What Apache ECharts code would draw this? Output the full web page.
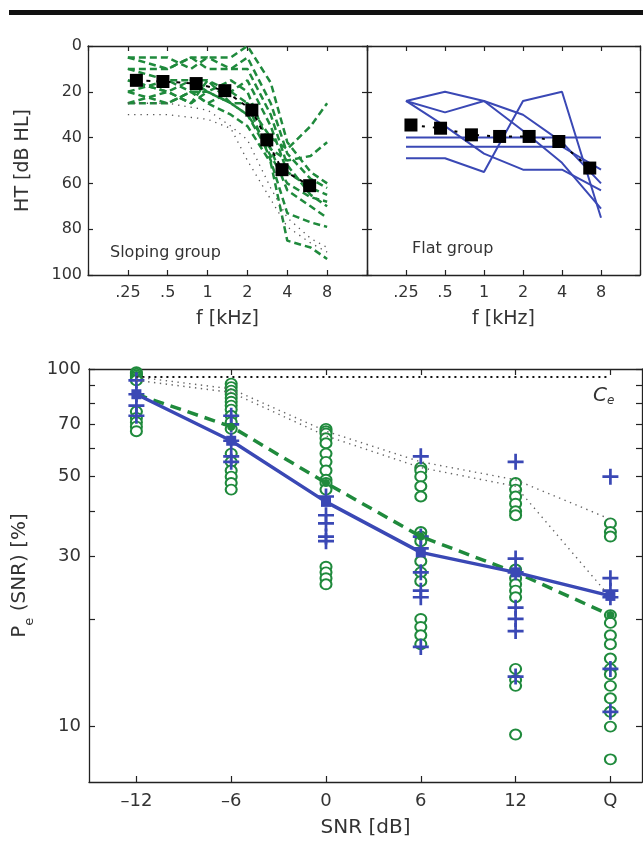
<!DOCTYPE html>
<html><head><meta charset="utf-8">
<script src="https://cdn.jsdelivr.net/npm/echarts@6/dist/echarts.min.js"></script>
<style>html,body{margin:0;padding:0;background:#fff}#c{width:643px;height:861px}</style>
</head><body><div id="c"></div><script>
const FONT = 'DejaVu Sans';
const GREEN = '#1f8a3c';
const BLUE = '#3a48b5';

// ---------- top panels (audiograms) ----------
const freqTicks = [0.25, 0.5, 1, 2, 4, 8];
const freqLabels = ['.25', '.5', '1', '2', '4', '8'];
const htTicks = [0, 20, 40, 60, 80, 100];

// sloping group (green dashed individual audiograms)
const slopeFreqs = [0.25, 0.5, 0.75, 1, 1.5, 2, 3, 4, 6, 8];
const slopeG1 = [5, 5, 10, 5, 5, 0, 16, 42, 55, 60];
const slopeG2 = [10, 10, 5, 10, 10, 5, 25, 47, 58, 62];
const slopeG3 = [20, 25, 20, 25, 20, 15, 35, 55, 62, 65];
const slopeG4 = [15, 20, 25, 15, 25, 25, 40, 45, 35, 25];
const slopeG5 = [25, 25, 20, 20, 25, 30, 45, 50, 48, 42];
const slopeG6 = [10, 15, 15, 20, 15, 20, 45, 63, 70, 75];
const slopeG7 = [5, 10, 5, 5, 10, 10, 30, 52, 65, 70];
const slopeG8 = [20, 15, 20, 25, 30, 35, 51, 85, 88, 93];
const slopeG9 = [15, 20, 15, 15, 20, 25, 50, 73, 77, 79];
const slopeG10 = [25, 20, 25, 20, 25, 30, 48, 60, 66, 68];
// dotted gray audiograms in sloping panel
const dotFreqs = [0.25, 0.5, 1, 1.5, 2, 3, 4, 6, 8];
const slopeD1 = [30, 30, 32, 36, 50, 67, 79, 86, 90];
const slopeD2 = [25, 25, 28, 35, 41, 62, 75, 84, 88];
// sloping group mean (black squares)
const slopeMeanF = [0.29, 0.46, 0.82, 1.35, 2.16, 2.8, 3.65, 5.9];
const slopeMeanHT = [15, 15.5, 16.4, 19.5, 28, 41, 54, 61];

// flat group (blue solid individual audiograms)
const flatFreqs = [0.25, 0.5, 1, 2, 4, 8];
const flatB1 = [24, 20, 24, 37, 51, 71];
const flatB2 = [24, 29, 24, 30, 42, 60];
const flatB3 = [40, 40, 40, 40, 40, 40];
const flatB4 = [44, 44, 44, 44, 44, 54];
const flatB5 = [49, 49, 55, 24, 20, 75];
const flatB6 = [24, 35, 47, 54, 54, 63];
// flat group mean
const flatMeanF = [0.273, 0.462, 0.8, 1.32, 2.23, 3.78, 6.55];
const flatMeanHT = [34.5, 35.9, 38.8, 39.5, 39.5, 41.7, 53.3];

// ---------- bottom panel ----------
const snrTicks = [-12, -6, 0, 6, 12, 18];
const snrLabels = ['\u201312', '\u20136', '0', '6', '12', 'Q'];
const peTickValues = [10, 20, 30, 40, 50, 60, 70, 80, 90, 100];
const peLabelValues = [10, 30, 50, 70, 100];

const ceilingCe = [95, 95, 95, 95, 95, 95];
const upperDotted = [95, 88, 67, 55, 49, 38];
const lowerDotted = [93, 86, 65, 53, 47, 23];
const slopeMeanPe = [85, 69, 48, 34, 27, 20.5];
const flatMeanPe = [85, 63, 42.5, 30.7, 27, 23.2];

const slopeIndPe = [
  [98, 97, 96, 95, 94, 93, 76, 73, 71, 69, 67],
  [91, 89, 87, 85, 83, 81, 79, 77, 74, 71, 68, 58, 55, 52, 50, 48, 46],
  [68, 67, 66, 64, 62, 58, 55, 52, 49, 48, 46, 28, 27, 26, 25],
  [53, 52, 50, 47, 44, 35, 34, 33, 29, 27, 25.5, 20, 19, 18, 17],
  [48, 46, 44, 42, 40, 39, 27.5, 26, 25, 24, 23, 14.5, 13.5, 13, 9.5],
  [37, 35, 34, 20.5, 19.5, 18, 17, 15.5, 14.5, 14, 13, 12, 11, 10, 8.1]
];
const flatIndPe = [
  [93, 85, 79, 74],
  [74, 70, 63, 57, 55],
  [44, 39, 37, 34, 33],
  [57, 34, 31.5, 27, 24, 23, 16.7],
  [55, 29.5, 27, 21.5, 20, 18.5, 13.8],
  [50, 26, 24, 23, 14.5, 11]
];

// ---------- helpers ----------
const pairs = (xs, ys) => xs.map((x, i) => [x, ys[i]]);
const groupPairs = (xs, groups) => {
  const out = [];
  groups.forEach((g, i) => g.forEach(v => out.push([xs[i], v])));
  return out;
};
const AX = '#222';
const lineC = {show: true, onZero: false, lineStyle: {color: AX, width: 1.3}};
const tickIn = {show: true, inside: true, length: 5, lineStyle: {color: AX, width: 1.2}};
const freqFmt = v => {
  const i = freqTicks.findIndex(t => Math.abs(t - v) < 1e-6);
  return i >= 0 ? freqLabels[i] : '';
};
const labelStyle = (size) => ({fontFamily: FONT, fontSize: size, color: '#333'});

function freqAxis(grid, pos, withLabel) {
  return {
    type: 'log', logBase: 2, min: 0.125, max: 16, splitNumber: 7,
    gridIndex: grid, position: pos,
    axisLine: lineC, axisTick: tickIn, splitLine: {show: false},
    axisLabel: withLabel ? Object.assign({show: true, margin: 10, formatter: freqFmt}, labelStyle(16)) : {show: false},
    name: withLabel ? 'f [kHz]' : '', nameLocation: 'middle', nameGap: 35,
    nameTextStyle: labelStyle(19)
  };
}
function htAxis(grid, pos, withLabel) {
  return {
    type: 'value', inverse: true, min: 0, max: 100, interval: 20,
    gridIndex: grid, position: pos,
    axisLine: lineC, axisTick: tickIn, splitLine: {show: false},
    axisLabel: withLabel ? Object.assign({show: true, margin: 6}, labelStyle(16)) : {show: false},
    name: withLabel ? 'HT [dB HL]' : '', nameLocation: 'middle', nameGap: 55, nameRotate: 90,
    nameTextStyle: labelStyle(19)
  };
}
function snrAxis(pos, withLabel) {
  return {
    type: 'value', min: -15, max: 20, gridIndex: 2, position: pos,
    axisLine: lineC,
    axisTick: Object.assign({customValues: snrTicks}, tickIn, {length: 6}),
    splitLine: {show: false},
    axisLabel: withLabel ? Object.assign({show: true, margin: 10, customValues: snrTicks,
      formatter: v => { const i = snrTicks.indexOf(v); return i >= 0 ? snrLabels[i] : ''; }}, labelStyle(18)) : {show: false},
    name: withLabel ? 'SNR [dB]' : '', nameLocation: 'middle', nameGap: 36,
    nameTextStyle: labelStyle(20)
  };
}
function peAxis(pos, withLabel) {
  return {
    type: 'log', logBase: 10, min: 7, max: 100, gridIndex: 2, position: pos,
    axisLine: lineC,
    axisTick: Object.assign({customValues: peTickValues}, tickIn, {length: 6}),
    splitLine: {show: false},
    axisLabel: withLabel ? Object.assign({show: true, margin: 8, customValues: peLabelValues}, labelStyle(18)) : {show: false},
    name: withLabel ? 'P{s|e} (SNR) [%]' : '', nameLocation: 'middle', nameGap: 53, nameRotate: 90,
    nameTextStyle: Object.assign({rich: {s: {fontFamily: FONT, fontSize: 13, color: '#333', verticalAlign: 'bottom', padding: [0, 0, -6, 0]}}}, labelStyle(20))
  };
}

const series = [];
// sloping-group individual lines
[slopeG1, slopeG2, slopeG3, slopeG4, slopeG5, slopeG6, slopeG7, slopeG8, slopeG9, slopeG10].forEach(g => {
  series.push({type: 'line', xAxisIndex: 0, yAxisIndex: 0, data: pairs(slopeFreqs, g), symbol: 'none',
    lineStyle: {color: GREEN, width: 2.5, type: [7, 4]}, z: 2});
});
[slopeD1, slopeD2].forEach(g => {
  series.push({type: 'line', xAxisIndex: 0, yAxisIndex: 0, data: pairs(dotFreqs, g), symbol: 'none',
    lineStyle: {color: '#555', width: 1.3, type: [1.3, 5]}, z: 2});
});
series.push({type: 'line', xAxisIndex: 0, yAxisIndex: 0, data: pairs(slopeMeanF, slopeMeanHT),
  symbol: 'rect', symbolSize: 13, itemStyle: {color: '#000'},
  lineStyle: {color: '#000', width: 2, type: [4, 6]}, z: 5});

// flat-group individual lines
[flatB1, flatB2, flatB3, flatB4, flatB5, flatB6].forEach(g => {
  series.push({type: 'line', xAxisIndex: 2, yAxisIndex: 2, data: pairs(flatFreqs, g), symbol: 'none',
    lineStyle: {color: BLUE, width: 2}, z: 2});
});
series.push({type: 'line', xAxisIndex: 2, yAxisIndex: 2, data: pairs(flatMeanF, flatMeanHT),
  symbol: 'rect', symbolSize: 13, itemStyle: {color: '#000'},
  lineStyle: {color: '#000', width: 2, type: [3, 8]}, z: 5});

// bottom panel
series.push({type: 'scatter', xAxisIndex: 4, yAxisIndex: 4, data: groupPairs(snrTicks, slopeIndPe),
  symbol: 'emptyCircle', symbolSize: [11, 10], itemStyle: {color: GREEN, borderColor: GREEN, borderWidth: 1.2, opacity: 1}, z: 2});
series.push({type: 'scatter', xAxisIndex: 4, yAxisIndex: 4, data: groupPairs(snrTicks, flatIndPe),
  symbol: 'path://M4.15,0h1.7v10h-1.7zM0,4.15h10v1.7h-10z', symbolSize: 16, itemStyle: {color: BLUE, opacity: 1}, z: 3});
series.push({type: 'line', xAxisIndex: 4, yAxisIndex: 4, data: pairs(snrTicks, ceilingCe), symbol: 'none',
  lineStyle: {color: '#111', width: 2, type: [2, 4]}, z: 4});
[upperDotted, lowerDotted].forEach(g => {
  series.push({type: 'line', xAxisIndex: 4, yAxisIndex: 4, data: pairs(snrTicks, g), symbol: 'none',
    lineStyle: {color: '#666', width: 1.4, type: [1.4, 4.5]}, z: 4});
});
series.push({type: 'line', xAxisIndex: 4, yAxisIndex: 4, data: pairs(snrTicks, slopeMeanPe),
  symbol: 'circle', symbolSize: 8, itemStyle: {color: GREEN},
  lineStyle: {color: GREEN, width: 3.5, type: [11, 7]}, z: 5});
series.push({type: 'line', xAxisIndex: 4, yAxisIndex: 4, data: pairs(snrTicks, flatMeanPe),
  symbol: 'rect', symbolSize: 10, itemStyle: {color: BLUE},
  lineStyle: {color: BLUE, width: 3.5}, z: 6});

const option = {
  animation: false,
  backgroundColor: '#fff',
  grid: [
    {left: 88, top: 46, width: 279, height: 229},
    {left: 367, top: 46, width: 277, height: 229},
    {left: 89, top: 369, width: 553, height: 413}
  ],
  xAxis: [
    freqAxis(0, 'bottom', true), freqAxis(0, 'top', false),
    freqAxis(1, 'bottom', true), freqAxis(1, 'top', false),
    snrAxis('bottom', true), snrAxis('top', false)
  ],
  yAxis: [
    htAxis(0, 'left', true), htAxis(0, 'right', false),
    htAxis(1, 'left', false), htAxis(1, 'right', false),
    peAxis('left', true), peAxis('right', false)
  ],
  series: series,
  graphic: [
    {type: 'rect', shape: {x: 9, y: 10, width: 640, height: 5}, style: {fill: '#111'}},
    {type: 'text', left: 110, top: 245, style: {text: 'Sloping group', font: '16px "DejaVu Sans"', fill: '#333'}},
    {type: 'text', left: 412, top: 241, style: {text: 'Flat group', font: '16px "DejaVu Sans"', fill: '#333'}},
    {type: 'text', left: 593, top: 386, style: {text: '{c|C}{e|e}', rich: {
      c: {fontFamily: FONT, fontSize: 20, fontStyle: 'italic', fill: '#333', color: '#333'},
      e: {fontFamily: FONT, fontSize: 12, fontStyle: 'italic', fill: '#333', color: '#333', padding: [10, 0, 0, 0]}
    }}}
  ]
};
const chart = echarts.init(document.getElementById('c'), null, {renderer: 'canvas'});
chart.setOption(option);
</script></body></html>
